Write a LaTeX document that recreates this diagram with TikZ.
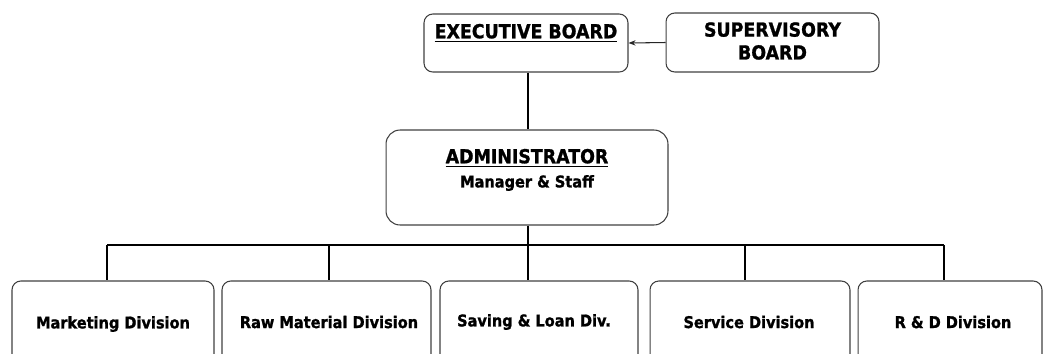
\documentclass[tikz,border=0pt]{standalone}
\usepackage{fontspec}
\setmainfont{DejaVu Sans}[FakeStretch=0.9, BoldFeatures={FakeBold=1.2}]
\usetikzlibrary{arrows.meta}

\tikzset{
    unitbox/.style={draw=black!75, line width=0.6pt, rounded corners=5pt, inner sep=0pt},
    unittext/.style={font=\bfseries\fontsize{9.2}{11}\selectfont, inner sep=0pt, align=center},
    headtext/.style={font=\bfseries\fontsize{11}{13}\selectfont, inner sep=0pt, align=center},
    link/.style={draw=black, line width=1.1pt},
}

\begin{document}
\begin{tikzpicture}[x=0.02cm, y=-0.02cm]
    \useasboundingbox (0,0) rectangle (1054,353);
    \clip (0,0) rectangle (1054,353);

    % boards
    \node[unitbox, minimum width=4.08cm, minimum height=1.16cm] (exec) at (526,43) {};
    \node[headtext] (execlbl) at (526,33) {\underline{EXECUTIVE BOARD}};
    \node[unitbox, minimum width=4.26cm, minimum height=1.18cm] (super) at (772.5,42.5) {};
    \node[headtext] (superlbl) at (772.5,41) {SUPERVISORY\\BOARD};
    \draw[draw=black!85, line width=0.6pt, -{Stealth[length=4pt,width=3pt]}] (super.west) -- (exec.east);

    % administrator
    \node[unitbox, minimum width=5.64cm, minimum height=1.9cm, rounded corners=8pt] (admin) at (527,177.5) {};
    \node[headtext] (adminlbl) at (527,158) {\underline{ADMINISTRATOR}};
    \node[unittext] (stafflbl) at (527,183) {Manager \& Staff};
    \draw[link] (exec.south -| 528,0) -- (admin.north -| 528,0);

    % divisions
    \node[unitbox, minimum width=4.04cm, minimum height=1.68cm] (mkt) at (113,323) {};
    \node[unitbox, minimum width=4.18cm, minimum height=1.68cm] (raw) at (326.5,323) {};
    \node[unitbox, minimum width=3.96cm, minimum height=1.68cm] (sav) at (539,323) {};
    \node[unitbox, minimum width=4.00cm, minimum height=1.68cm] (srv) at (750,323) {};
    \node[unitbox, minimum width=3.68cm, minimum height=1.68cm] (rnd) at (950,323) {};
    \node[unittext] (mktlbl) at (113,324) {Marketing Division};
    \node[unittext] (rawlbl) at (329,322) {Raw Material Division};
    \node[unittext] (savlbl) at (534,322) {Saving \& Loan Div.};
    \node[unittext] (srvlbl) at (749,322) {Service Division};
    \node[unittext] (rndlbl) at (953,322) {R \& D Division};

    % bus
    \coordinate (b1) at (107,245);
    \coordinate (b2) at (329,245);
    \coordinate (b3) at (528,245);
    \coordinate (b4) at (745,245);
    \coordinate (b5) at (944,245);
    \draw[link] (admin.south -| b3) -- (b3);
    \draw[link] (b1) -- (b5);
    \draw[link] (b1) -- (b1 |- mkt.north);
    \draw[link] (b2) -- (b2 |- raw.north);
    \draw[link] (b3) -- (b3 |- sav.north);
    \draw[link] (b4) -- (b4 |- srv.north);
    \draw[link] (b5) -- (b5 |- rnd.north);
\end{tikzpicture}
\end{document}
